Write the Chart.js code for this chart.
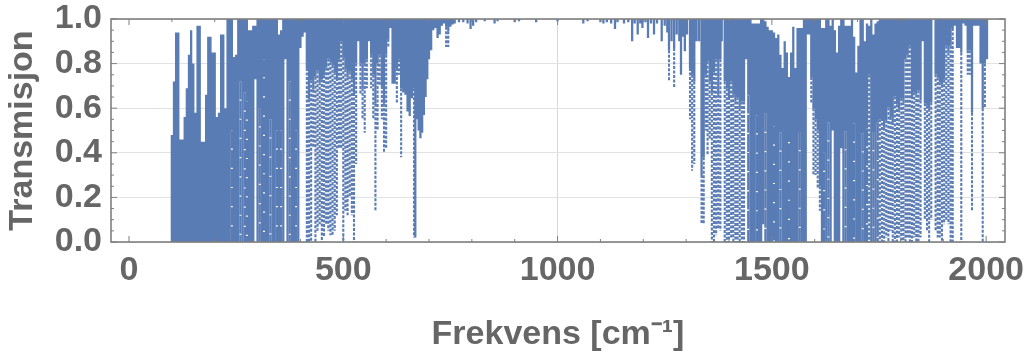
<!DOCTYPE html>
<html>
<head>
<meta charset="utf-8">
<script src="https://cdn.jsdelivr.net/npm/chart.js@4"></script>
<style>
  html, body { margin: 0; background: #fff; }
  canvas { display: block; }
</style>
</head>
<body>
<canvas id="chart" width="1024" height="351"></canvas>
<script>
// ── Data ────────────────────────────────────────────────────────────────────
// each spectrum column: solid from top to solidLow, speckled down to speckLow, dotted down to dotLow
const freq = [
  100,105,110,115,120,125,130,135,140,145,
  150,155,160,165,170,175,180,185,190,195,
  200,205,210,215,220,225,230,235,240,245,
  250,255,260,265,270,275,280,285,290,295,
  300,305,310,315,320,325,330,335,340,345,
  350,355,360,365,370,375,380,385,390,395,
  400,405,410,415,420,425,430,435,440,445,
  450,455,460,465,470,475,480,485,490,495,
  500,505,510,515,520,525,530,535,540,545,
  550,555,560,565,570,575,580,585,590,595,
  600,605,610,615,620,625,630,635,640,645,
  650,655,660,665,668,672,676,680,684,688,
  692,696,700,705,710,715,720,725,730,735,
  740,745,750,755,760,770,780,790,797,803,
  810,830,853,860,900,910,950,1000,1060,1070,
  1100,1107,1115,1125,1134,1140,1155,1165,1174,1180,
  1187,1193,1198,1205,1211,1218,1225,1232,1243,1250,
  1256,1260,1266,1272,1278,1284,1288,1293,1297,1302,
  1309,1314,1319,1324,1330,1336,1341,1346,1350,1355,
  1360,1365,1370,1375,1380,1383,1390,1395,1400,1405,
  1410,1415,1420,1425,1430,1435,1440,1445,1450,1455,
  1460,1465,1470,1475,1480,1485,1490,1495,1500,1505,
  1510,1515,1520,1525,1530,1535,1540,1545,1550,1555,
  1560,1565,1570,1575,1579,1582,1587,1592,1597,1602,
  1607,1612,1617,1622,1627,1632,1637,1642,1647,1652,
  1657,1662,1667,1672,1677,1682,1687,1692,1697,1702,
  1707,1712,1717,1722,1727,1732,1737,1742,1747,1752,
  1757,1762,1767,1772,1777,1782,1787,1792,1797,1802,
  1807,1812,1817,1822,1827,1832,1837,1842,1847,1852,
  1857,1862,1867,1872,1877,1882,1887,1892,1897,1902,
  1907,1912,1917,1922,1927,1932,1937,1942,1947,1952,
  1957,1962,1967,1972,1977,1982,1987,1992,1997,2002,
];
const top_ = [
  .48,.72,.94,.94,.46,.46,.56,.69,.84,.95,
  .80,.58,.97,.97,.45,.45,.66,.92,.92,.85,
  .85,.56,.58,.93,.93,.60,1,1,1,.83,
  .84,1,1,1,1,1,.95,.95,.97,.97,
  1,1,1,1,1,1,1,1,1,1,
  .93,.95,1,1,1,1,1,1,1,1,
  1,1,1,1,1,1,1,1,1,1,
  1,1,1,1,1,1,1,1,1,1,
  1,1,1,1,1,1,1,1,1,1,
  1,1,1,1,1,1,1,1,1,1,
  1,1,1,1,1,1,1,1,1,1,
  1,1,1,1,1,1,1,1,1,1,
  1,1,1,1,1,1,1,1,1,1,
  1,1,1,1,1,1,1,1,1,1,
  1,1,1,1,1,1,1,1,1,1,
  1,1,1,1,1,1,1,1,1,1,
  1,1,1,1,1,1,1,1,1,1,
  1,1,1,1,1,1,1,1,1,1,
  1,1,1,1,1,1,1,1,1,1,
  1,1,1,1,1,1,1,1,1,1,
  1,1,1,1,1,1,1,1,1,.98,
  .98,.98,.98,1,1,.99,.965,.95,.95,.94,
  .915,.93,.84,.78,.9,.85,.74,.85,.965,.78,
  .96,.96,.96,1,1,1,1,1,1,1,
  1,1,.96,.96,1,1,.97,1,.95,.85,
  .97,1,1,.97,.97,.97,1,.92,.76,.88,
  1,1,.9,.98,.97,1,.93,.98,.99,1,
  1,1,1,1,1,1,1,1,1,1,
  1,1,1,1,1,1,1,1,1,1,
  1,1,1,1,.97,1,1,1,1,1,
  1,1,1,1,1,1,1,1,1,1,
  1,1,1,1,1,1,1,1,1,1,
];
const solidLow = [
  0,0,0,0,0,0,0,0,0,0,
  0,0,0,0,0,0,0,0,0,0,
  0,0,0,0,0,0,0,0,.5,0,
  0,0,.72,0,.67,.63,0,0,0,.73,
  0,.6,0,.82,0,0,.55,0,0,.5,
  0,.5,0,.82,0,.72,0,0,.5,0,
  .87,.92,.94,.78,.64,.725,.683,.741,.768,.716,
  .729,.747,.781,.822,.806,.793,.762,.735,.82,.90,
  .826,.775,.738,.764,.729,.668,.80,.90,.80,.69,
  .80,.82,.90,.84,.75,.62,.80,.84,.70,.62,
  .84,.91,.96,.71,.71,.78,.82,.69,.67,.66,
  .585,.565,.645,.69,.02,.55,.50,.465,.49,.57,
  .65,.73,.82,.86,.95,.96,.915,.93,.97,.98,
  .965,.945,.965,.975,.98,.985,.985,.98,.955,.97,
  .985,.99,.98,.99,.985,.99,.985,.99,.98,.99,
  .985,.98,.985,.98,.955,.985,.98,.985,.90,.98,
  .93,.98,.96,.985,.915,.98,.93,.98,.90,.97,
  .94,.86,.90,.87,.93,.90,.75,.92,.855,.93,
  .78,.75,.72,.90,.90,.30,.38,.75,.81,.72,
  .67,.76,.82,.66,.82,.90,.72,.69,.65,.72,
  .66,.63,.65,.60,.63,.63,.82,.657,0,0,
  0,.568,0,0,.08,.575,0,0,0,.518,
  0,0,.491,0,0,0,.529,0,0,0,
  0,.493,0,0,0,.93,.93,.74,.6,.55,
  .5,.25,0,.4,0,.537,0,.5,0,0,
  0,.42,0,.497,0,0,0,.531,0,0,
  0,.488,0,.509,.75,0,.493,0,.535,.55,
  .556,.512,.547,.603,.561,.538,.652,.617,.594,.646,
  .627,.82,.84,.88,.655,.672,.661,.68,.634,.9,
  .622,.611,.598,.627,.97,.752,.738,.716,.705,.728,
  .88,.85,.88,.96,.97,.87,.87,.85,.98,.97,
  .86,.86,.58,.97,.97,.97,.8,.6,.8,.82,
];
const speckLow = [
  0,0,0,0,0,0,0,0,0,0,
  0,0,0,0,0,0,0,0,0,0,
  0,0,0,0,0,0,0,0,0,0,
  0,0,0,0,0,0,0,0,0,.73,
  0,0,0,0,0,0,0,0,0,0,
  0,0,0,.82,0,0,0,0,0,0,
  .87,.92,.94,.78,.64,.725,.683,.741,.768,.716,
  .729,.747,.781,.822,.806,.793,.762,.735,.82,.90,
  .826,.775,.738,.764,.729,.668,.80,.90,.80,.69,
  .80,.82,.90,.84,.75,.62,.80,.84,.70,.62,
  .84,.91,.96,.71,.71,.78,.82,.69,.67,.66,
  .585,.565,.645,.69,.02,.55,.50,.465,.49,.57,
  .65,.73,.82,.86,.95,.96,.915,.93,.97,.98,
  .965,.945,.965,.975,.98,.985,.985,.98,.955,.97,
  .985,.99,.98,.99,.985,.99,.985,.99,.98,.99,
  .985,.98,.985,.98,.955,.985,.98,.985,.90,.98,
  .93,.98,.96,.985,.915,.98,.93,.98,.90,.97,
  .94,.86,.90,.87,.93,.90,.75,.92,.855,.93,
  .78,.75,.72,.90,.90,.30,.38,.75,.81,.72,
  .67,.76,.82,.66,.82,.90,.72,.69,.65,.72,
  .66,.63,.65,.60,.63,.63,.82,0,0,0,
  0,0,0,0,.08,0,0,0,0,0,
  0,0,0,0,0,0,0,0,0,0,
  0,0,0,0,0,.93,.93,.74,.6,.55,
  .5,.25,0,0,0,0,0,.5,0,0,
  0,.42,0,0,0,.02,0,0,0,0,
  0,0,0,0,.75,0,0,0,0,.55,
  .556,.512,.547,.603,.561,.538,.652,.617,.594,.646,
  .627,.82,.84,.88,.655,.672,.661,.68,.634,.9,
  .622,.611,.598,.627,.97,.752,.738,.716,.705,.728,
  .88,.85,.88,.96,.97,.87,.87,.85,.98,.97,
  .86,.86,.58,.97,.97,.97,.8,.6,.8,.82,
];
const dotLow = [
  0,0,0,0,0,0,0,0,0,0,
  0,0,0,0,0,0,0,0,0,0,
  0,0,0,0,0,0,0,0,0,0,
  0,0,0,0,0,0,0,0,0,.73,
  0,0,0,0,0,0,0,0,0,0,
  0,0,0,.82,0,0,0,0,0,0,
  .87,.92,.94,0,0,0,.42,0,.05,.08,
  0,.02,.08,.05,.03,.03,.05,.12,.42,.42,
  0,.14,.12,.2,.12,0,.35,.90,.66,.55,
  .49,.69,.90,.69,.55,.14,.50,.7,.55,.40,
  .42,.87,.96,.71,.71,.62,.75,.38,.67,.66,
  .585,.565,.645,.02,.02,.55,.50,.465,.49,.57,
  .65,.73,.82,.86,.95,.96,.915,.93,.97,.98,
  .875,.875,.965,.975,.98,.985,.985,.98,.955,.97,
  .985,.99,.98,.99,.985,.99,.985,.99,.98,.99,
  .985,.98,.985,.98,.955,.985,.98,.985,.90,.98,
  .93,.98,.96,.985,.915,.98,.93,.98,.90,.97,
  .94,.72,.90,.69,.93,.90,.75,.92,.855,.93,
  .55,.32,.35,.90,.90,.08,.08,.5,.39,.46,
  0,0,.03,.06,.05,.90,0,0,0,.02,
  0,0,0,0,0,0,.82,0,0,0,
  0,0,0,0,.08,0,0,0,0,0,
  0,0,0,0,0,0,0,0,0,0,
  0,0,0,0,0,.93,.93,.62,.30,.30,
  .24,.14,0,0,0,0,0,.5,0,0,
  0,.42,0,0,0,.02,0,0,0,0,
  0,0,0,0,0,0,0,0,0,0,
  0,0,.02,0,.05,0,0,0,.02,0,
  0,0,.02,0,0,.02,0,0,.02,.9,
  .1,.05,0,.1,.97,.05,.02,.02,0,.08,
  .1,.08,0,0,.97,.87,.87,0,.98,.97,
  .75,.75,.14,.97,.97,.97,.8,0,.6,.82,
];

const xTicks      = [0, 500, 1000, 1500, 2000];
const xMinorTicks = [100, 200, 300, 400, 600, 700, 800, 900, 1100, 1200, 1300, 1400, 1600, 1700, 1800, 1900];
const yTicks      = [0, 0.2, 0.4, 0.6, 0.8, 1];
const yMinorTicks = [0.05, 0.1, 0.15, 0.25, 0.3, 0.35, 0.45, 0.5, 0.55, 0.65, 0.7, 0.75, 0.85, 0.9, 0.95];

// ── Styles ──────────────────────────────────────────────────────────────────
const BLUE  = '#5a7cb4';
const GREY  = '#666666';
const FRAME = '#7f7f7f';
const FONT_FAMILY = '"Liberation Sans", sans-serif';

// ── Helpers ─────────────────────────────────────────────────────────────────
// one vertical stroke per column, broken up by null points
function columns(upper, lower) {
  const pts = [];
  freq.forEach((x, i) => {
    if (upper[i] > lower[i]) {
      pts.push({ x, y: upper[i] }, { x, y: lower[i] }, { x, y: null });
    }
  });
  return pts;
}

function strokes(data, borderDash, borderWidth) {
  return {
    data,
    showLine: true,
    borderColor: BLUE,
    borderWidth,
    borderCapStyle: 'butt',
    borderDash,
    pointRadius: 0,
    pointHoverRadius: 0,
    spanGaps: false,
    tension: 0,
  };
}

// labels may hang over the plot edge, the plot box itself stays put
function noOverhang(scale) {
  scale.paddingTop = 0;
  scale.paddingBottom = 0;
  scale.paddingLeft = 0;
  scale.paddingRight = 0;
}

// Frame and the inward ticks on all four sides
const framePlugin = {
  id: 'frame',
  afterDatasetsDraw(chart) {
    const { ctx, chartArea: a, scales: { x, y } } = chart;
    ctx.save();
    ctx.strokeStyle = FRAME;
    ctx.lineWidth = 1;
    const mark = (x1, y1, x2, y2) => {
      ctx.beginPath();
      ctx.moveTo(x1, y1);
      ctx.lineTo(x2, y2);
      ctx.stroke();
    };
    const vTicks = (list, len) => list.forEach(v => {
      const px = x.getPixelForValue(v);
      mark(px, a.bottom, px, a.bottom - len);
      mark(px, a.top, px, a.top + len);
    });
    const hTicks = (list, len) => list.forEach(v => {
      const py = y.getPixelForValue(v);
      mark(a.left, py, a.left + len, py);
      mark(a.right, py, a.right - len, py);
    });
    vTicks(xTicks, 6);
    vTicks(xMinorTicks, 3);
    hTicks(yTicks, 6);
    hTicks(yMinorTicks, 3);
    ctx.lineWidth = 1.6;
    ctx.strokeRect(a.left, a.top, a.right - a.left, a.bottom - a.top);
    ctx.restore();
  },
};

// ── Chart ───────────────────────────────────────────────────────────────────
new Chart(document.getElementById('chart'), {
  type: 'scatter',
  data: {
    datasets: [
      strokes(columns(top_, solidLow), [], 2.3),
      strokes(columns(solidLow, speckLow), [18, 1.2], 2.3),
      strokes(columns(speckLow, dotLow), [3, 1.5], 2.1),
    ],
  },
  options: {
    responsive: false,
    animation: false,
    events: [],
    // negative bottom: the x axis box runs a little past the canvas so its title sits lower
    layout: { autoPadding: false, padding: { top: 19, right: 19, left: 0, bottom: -4 } },
    plugins: { legend: { display: false }, tooltip: { enabled: false } },
    scales: {
      x: {
        type: 'linear',
        min: -42,
        max: 2044,
        afterFit(scale) { scale.height = 113; noOverhang(scale); },
        afterBuildTicks(scale) { scale.ticks = xTicks.map(value => ({ value })); },
        grid: {
          drawTicks: false,
          color: c => (c.tick && c.tick.value === 1000 ? '#d8d8d8' : 'transparent'),
        },
        border: { display: false },
        ticks: {
          color: GREY,
          font: { family: FONT_FAMILY, weight: 'bold', size: 34 },
          padding: 8,
          maxRotation: 0,
          autoSkip: false,
          callback: v => String(v),
        },
        title: {
          display: true,
          text: 'Frekvens [cm⁻¹]',
          color: GREY,
          font: { family: FONT_FAMILY, weight: 'bold', size: 34 },
          padding: { top: 0, bottom: 0 },
        },
      },
      y: {
        min: 0,
        max: 1,
        afterFit(scale) { scale.width = 111; noOverhang(scale); },
        afterBuildTicks(scale) { scale.ticks = yTicks.map(value => ({ value })); },
        grid: { drawTicks: false, color: '#e2e2e2' },
        border: { display: false },
        ticks: {
          color: GREY,
          font: { family: FONT_FAMILY, weight: 'bold', size: 34 },
          padding: 9,
          autoSkip: false,
          callback: v => v.toFixed(1),
        },
        title: {
          display: true,
          text: 'Transmisjon',
          color: GREY,
          font: { family: FONT_FAMILY, weight: 'bold', size: 34 },
          padding: { top: 2, bottom: 0 },
        },
      },
    },
  },
  plugins: [framePlugin],
});
</script>
</body>
</html>
